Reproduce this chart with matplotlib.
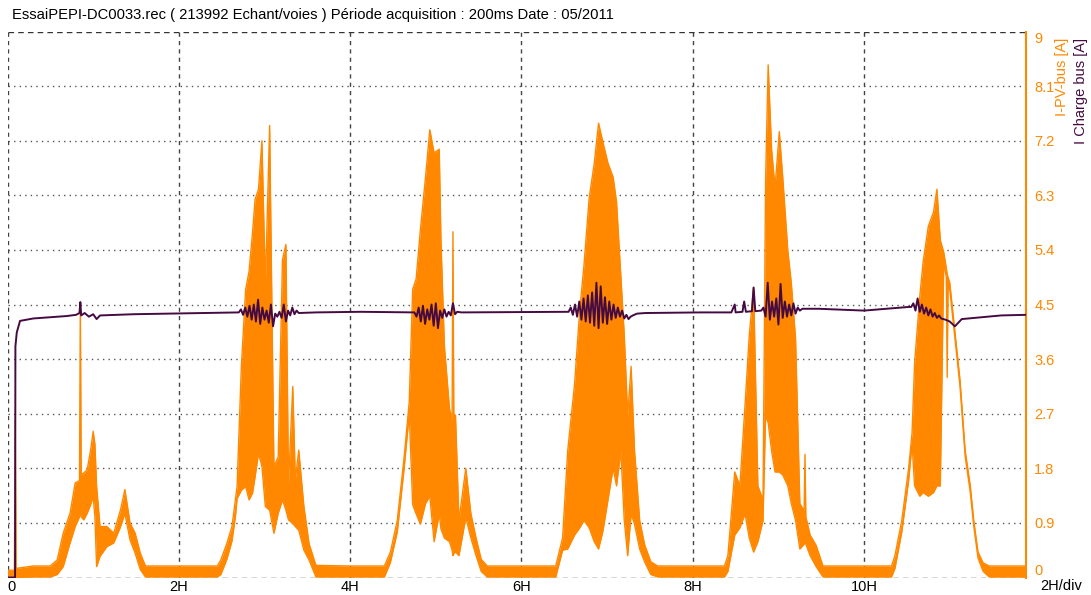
import matplotlib
matplotlib.use('Agg')
import matplotlib.pyplot as plt

plt.rcParams['font.family'] = ['Liberation Sans', 'DejaVu Sans']

# ---- data (hours / amps) ----
TITLE = 'EssaiPEPI-DC0033.rec ( 213992 Echant/voies ) Période acquisition : 200ms Date : 05/2011'
T_END = 11.89

# I-PV-bus : envelope of the fast oscillating signal (time, low, high)
pv_t = [0.00, 0.08, 0.09, 0.10, 0.30, 0.50,
        0.58, 0.65, 0.73, 0.79, 0.84, 0.85, 0.86, 0.89, 0.93, 0.97, 1.00, 1.02, 1.04, 1.08,
        1.16, 1.24, 1.32, 1.37, 1.43, 1.49, 1.55, 1.61,
        2.00, 2.45,
        2.49, 2.56, 2.62, 2.66, 2.68, 2.73, 2.78, 2.82, 2.86, 2.89, 2.93, 2.97, 3.01, 3.06,
        3.11, 3.16, 3.21, 3.25, 3.28, 3.33, 3.36, 3.40, 3.46, 3.52, 3.60,
        4.00, 4.40,
        4.47, 4.55, 4.63, 4.69, 4.73, 4.77, 4.82, 4.88, 4.93, 4.98, 5.04, 5.06, 5.10, 5.16,
        5.19, 5.20, 5.21, 5.23, 5.27, 5.35, 5.41, 5.47, 5.53, 5.60,
        6.00, 6.40,
        6.48, 6.54, 6.62, 6.68, 6.73, 6.79, 6.85, 6.90, 6.95, 7.01, 7.07, 7.11, 7.16, 7.20,
        7.24, 7.28, 7.32, 7.38, 7.44, 7.51, 7.59,
        8.00, 8.37,
        8.41, 8.49, 8.55, 8.61, 8.66, 8.71, 8.76, 8.82, 8.85, 8.88, 8.92, 8.96, 9.01, 9.05,
        9.11, 9.15, 9.20, 9.25, 9.30, 9.31, 9.32, 9.37, 9.44, 9.52,
        10.00, 10.32,
        10.36, 10.44, 10.52, 10.56, 10.59, 10.65, 10.69, 10.75, 10.81, 10.85, 10.89, 10.93,
        10.96, 10.97, 10.98, 11.00, 11.06, 11.12, 11.18, 11.24, 11.28, 11.33, 11.39, 11.46,
        11.89]
pv_lo = [0.00, 0.00, 0.00, 0.00, 0.01, 0.01,
         0.05, 0.18, 0.57, 0.84, 1.00, 1.06, 1.00, 0.95, 1.06, 1.20, 1.34, 1.00, 0.18, 0.35,
         0.51, 0.57, 0.84, 1.06, 0.62, 0.40, 0.13, 0.01,
         0.01, 0.01,
         0.05, 0.30, 0.60, 1.00, 1.30, 1.44, 1.50, 1.28, 1.39, 1.66, 2.05, 1.83, 1.17, 1.11,
         0.73, 1.06, 1.28, 1.11, 0.95, 0.89, 0.84, 0.78, 0.45, 0.29, 0.01,
         0.01, 0.01,
         0.25, 0.75, 1.80, 2.70, 1.20, 1.05, 0.88, 1.22, 1.34, 0.59, 1.05, 0.80, 0.65, 0.59,
         0.45, 0.36, 0.40, 0.42, 0.36, 0.99, 0.65, 0.36, 0.10, 0.01,
         0.01, 0.01,
         0.45, 0.47, 0.70, 0.82, 0.94, 0.82, 0.59, 0.47, 0.76, 1.28, 1.80, 1.51, 2.09, 0.94,
         0.36, 1.05, 0.88, 0.47, 0.25, 0.05, 0.01,
         0.01, 0.01,
         0.10, 0.70, 0.82, 1.05, 0.65, 0.42, 0.59, 0.94, 2.67, 2.55, 2.09, 1.74, 1.74, 1.69,
         1.51, 1.22, 0.94, 0.47, 0.55, 0.59, 0.55, 0.36, 0.18, 0.01,
         0.01, 0.01,
         0.15, 0.75, 1.60, 2.20, 1.51, 1.34, 1.40, 1.34, 1.40, 1.51, 1.51, 5.20,
         4.95, 3.30, 4.80, 4.75, 3.95, 3.15, 2.00, 1.40, 0.85, 0.32, 0.10, 0.01,
         0.01]
pv_hi = [0.12, 0.12, 2.60, 0.15, 0.19, 0.19,
         0.29, 0.73, 1.06, 1.56, 1.60, 4.53, 1.70, 1.72, 1.78, 2.10, 2.41, 2.20, 1.50, 0.84,
         0.84, 0.73, 1.12, 1.45, 0.90, 0.73, 0.40, 0.19,
         0.19, 0.19,
         0.29, 0.56, 0.84, 1.28, 1.50, 3.48, 4.75, 5.05, 5.68, 6.23, 6.40, 7.20, 4.80, 7.45,
         1.83, 1.99, 5.24, 5.49, 1.55, 3.15, 1.61, 2.10, 1.17, 0.56, 0.20,
         0.19, 0.19,
         0.42, 0.94, 1.98, 2.90, 4.75, 4.92, 5.73, 6.60, 7.38, 7.00, 7.06, 5.56, 3.82, 2.78,
         2.60, 5.70, 2.70, 2.67, 0.94, 1.80, 1.05, 0.65, 0.30, 0.19,
         0.19, 0.19,
         0.65, 2.09, 3.19, 4.40, 5.15, 6.25, 6.83, 7.49, 7.18, 6.83, 6.60, 6.19, 4.98, 4.00,
         2.67, 3.48, 2.09, 0.94, 0.53, 0.26, 0.19,
         0.19, 0.19,
         0.36, 1.74, 1.51, 2.84, 4.00, 4.78, 1.51, 1.28, 6.54, 8.45, 7.06, 6.42, 7.35, 6.60,
         5.38, 4.86, 3.94, 1.22, 1.10, 2.03, 1.00, 0.70, 0.53, 0.19,
         0.19, 0.19,
         0.36, 0.94, 1.80, 2.38, 3.54, 4.63, 5.21, 5.79, 6.02, 6.40, 5.56, 5.36,
         5.10, 5.00, 4.95, 4.86, 4.06, 3.25, 2.09, 1.51, 0.94, 0.42, 0.24, 0.19,
         0.19]

# I Charge bus : trace (time, amps), peaks and troughs where it jitters
chg_t = [0.00, 0.088, 0.092, 0.108, 0.146, 0.30, 0.69, 0.80, 0.84, 0.85, 0.86, 0.90, 0.95,
         1.00, 1.04, 1.08, 1.47, 2.64,
         2.700, 2.725, 2.750, 2.775, 2.800, 2.825, 2.850, 2.875, 2.900, 2.925, 2.950, 2.975,
         3.000, 3.025, 3.050, 3.075, 3.100, 3.125, 3.150, 3.175, 3.200, 3.225, 3.250, 3.275,
         3.300, 3.325, 3.350, 3.375, 3.400, 3.60, 4.12, 4.70,
         4.750, 4.775, 4.800, 4.825, 4.850, 4.875, 4.900, 4.925, 4.950, 4.975, 5.000, 5.025,
         5.050, 5.075, 5.100, 5.125, 5.150, 5.175, 5.200, 5.225, 5.250, 5.30, 6.45,
         6.550, 6.575, 6.600, 6.625, 6.650, 6.675, 6.700, 6.725, 6.750, 6.775, 6.800, 6.825,
         6.850, 6.875, 6.900, 6.925, 6.950, 6.975, 7.000, 7.025, 7.050, 7.075, 7.100, 7.125,
         7.150, 7.175, 7.200, 7.225, 7.250, 7.275, 7.300, 7.35, 7.45, 8.10,
         8.45, 8.49, 8.50, 8.58, 8.60, 8.62, 8.69, 8.71, 8.73, 8.80,
         8.825, 8.850, 8.875, 8.900, 8.925, 8.950, 8.975, 9.000, 9.025, 9.050, 9.075, 9.100,
         9.125, 9.150, 9.175, 9.200, 9.225, 9.250, 9.28, 9.47, 10.00, 10.52,
         10.550, 10.575, 10.600, 10.625, 10.650, 10.675, 10.700, 10.725, 10.750, 10.775,
         10.800, 10.825, 10.850, 10.875, 10.900, 10.95, 11.00, 11.06, 11.14, 11.60, 11.89]
chg_a = [0.00, 0.00, 3.81, 4.04, 4.23, 4.27, 4.31, 4.33, 4.36, 4.54, 4.32, 4.36, 4.30,
         4.34, 4.26, 4.32, 4.34, 4.37,
         4.37, 4.42, 4.33, 4.45, 4.30, 4.48, 4.25, 4.50, 4.22, 4.58, 4.18, 4.45,
         4.25, 4.40, 4.20, 4.50, 4.14, 4.35, 4.30, 4.38, 4.28, 4.50, 4.22, 4.40,
         4.32, 4.45, 4.34, 4.40, 4.36, 4.37, 4.38, 4.37,
         4.37, 4.30, 4.45, 4.22, 4.48, 4.18, 4.42, 4.25, 4.50, 4.15, 4.52, 4.11,
         4.40, 4.28, 4.42, 4.30, 4.38, 4.32, 4.52, 4.34, 4.38, 4.37, 4.38,
         4.38, 4.45, 4.33, 4.50, 4.30, 4.55, 4.25, 4.60, 4.22, 4.65, 4.20, 4.70,
         4.15, 4.86, 4.11, 4.80, 4.20, 4.62, 4.18, 4.55, 4.25, 4.50, 4.28, 4.45,
         4.30, 4.40, 4.27, 4.33, 4.26, 4.30, 4.32, 4.35, 4.36, 4.37,
         4.37, 4.50, 4.37, 4.38, 4.55, 4.38, 4.39, 4.78, 4.39, 4.40,
         4.45, 4.30, 4.86, 4.25, 4.55, 4.30, 4.60, 4.17, 4.84, 4.28, 4.55, 4.30,
         4.50, 4.32, 4.52, 4.35, 4.45, 4.40, 4.43, 4.43, 4.40, 4.46,
         4.46, 4.52, 4.40, 4.60, 4.38, 4.50, 4.35, 4.45, 4.32, 4.42,
         4.30, 4.36, 4.28, 4.32, 4.27, 4.25, 4.22, 4.14, 4.26, 4.32, 4.33]

x_ticks = [0, 2, 4, 6, 8, 10]
x_labels = ['0', '2H', '4H', '6H', '8H', '10H']
y_ticks = [0, 0.9, 1.8, 2.7, 3.6, 4.5, 5.4, 6.3, 7.2, 8.1, 9]
y_labels = ['0', '0.9', '1.8', '2.7', '3.6', '4.5', '5.4', '6.3', '7.2', '8.1', '9']

ORANGE = '#ff8800'
PURPLE = '#450a42'

fig = plt.figure(figsize=(10.91, 5.95), dpi=100)
ax = fig.add_axes([0.0069, 0.0294, 0.9335, 0.9176])

# grid
for yv in y_ticks[1:-1]:
    ax.axhline(yv, color='#555555', lw=1.0, ls=(0, (1, 3)), zorder=1)
for xv in x_ticks:
    ax.axvline(xv, color='#444444', lw=1.0, ls=(0, (3, 3)), zorder=1)
ax.axhline(9, color='#333333', lw=1.0, ls=(0, (4, 3)), zorder=1)
ax.axhline(0, color='#333333', lw=1.0, ls=(0, (4, 3)), zorder=1)

# I-PV-bus
ax.fill_between(pv_t, pv_lo, pv_hi, color=ORANGE, lw=0, zorder=2)
ax.plot(pv_t, pv_hi, color=ORANGE, lw=1.0, zorder=2)
ax.plot(pv_t, pv_lo, color=ORANGE, lw=1.0, zorder=2)

# I Charge bus
ax.plot(chg_t, chg_a, color=PURPLE, lw=1.4, zorder=3)

ax.set_xlim(0, T_END)
ax.set_ylim(0, 9)

for s in ['top', 'bottom', 'left']:
    ax.spines[s].set_visible(False)
ax.spines['right'].set_color(ORANGE)
ax.spines['right'].set_linewidth(1.5)

ax.set_xticks(x_ticks)
ax.set_xticklabels(x_labels, fontsize=10.5)
ax.tick_params(axis='x', length=0, pad=2)
ax.get_xticklabels()[0].set_ha('left')

ax.yaxis.tick_right()
ax.set_yticks(y_ticks)
ax.set_yticklabels(y_labels, fontsize=10.5, color=ORANGE)
ax.tick_params(axis='y', length=0, pad=6)
ylab = ax.get_yticklabels()
ylab[0].set_va('bottom')
ylab[-1].set_va('top')

fig.text(12 / 1091, 1 - 15 / 595, TITLE, fontsize=10.6, ha='left', va='center')
fig.text(1040 / 1091, 1 - 586 / 595, '2H/div', fontsize=10.5, ha='left', va='center')
fig.text(1062 / 1091, 1 - 38 / 595, 'I-PV-bus [A]', fontsize=10.5, color=ORANGE,
         rotation=90, ha='center', va='top')
fig.text(1081 / 1091, 1 - 38 / 595, 'I Charge bus [A]', fontsize=10.5, color=PURPLE,
         rotation=90, ha='center', va='top')

plt.savefig('out.png', dpi=100)
